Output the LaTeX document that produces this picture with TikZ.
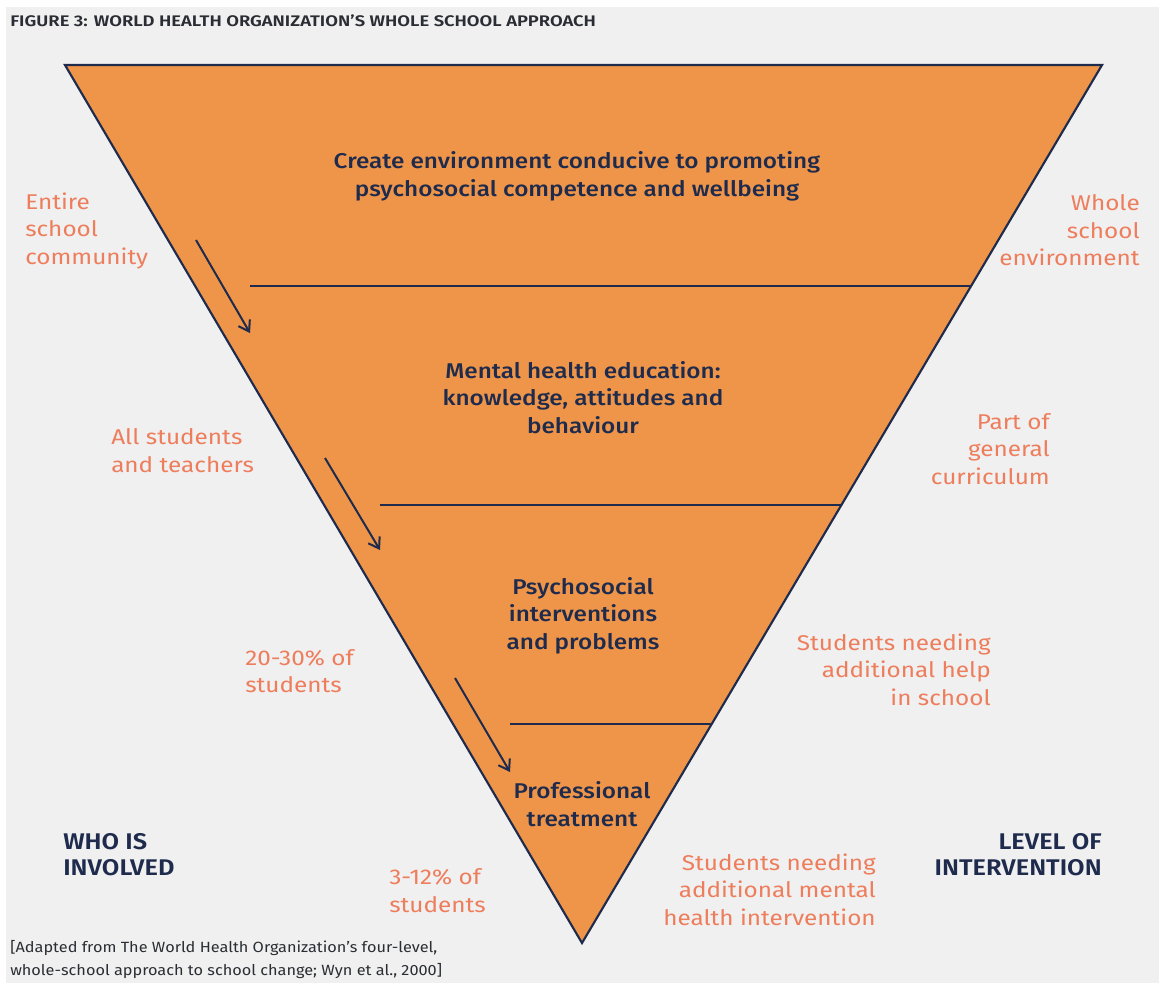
\documentclass[tikz,border=0pt]{standalone}
\usepackage{fontspec}
\setmainfont{Fira Sans}
\newfontfamily\medfont{Fira Sans}[UprightFont=* Medium, FakeStretch=1.14]
\newfontfamily\labfont{Fira Sans}[FakeStretch=1.14]
\newfontfamily\headfont{Fira Sans}[UprightFont=* SemiBold, FakeStretch=1.12]
\newfontfamily\capfont{Fira Sans}[UprightFont=* SemiBold, FakeStretch=1.2]
\newfontfamily\srcfont{Fira Sans}[FakeStretch=1.1]
\usetikzlibrary{arrows.meta}
\definecolor{bggray}{HTML}{F0F0F0}
\definecolor{tri}{HTML}{EF9549}
\definecolor{navy}{HTML}{1E2B4D}
\definecolor{salmon}{HTML}{EE7D5C}
\definecolor{ink}{HTML}{2A2D33}

\begin{document}
\begin{tikzpicture}[x=0.75pt,y=-0.75pt,
  band/.style={font=\medfont\fontsize{16}{20.6}\selectfont, text=navy, align=center, inner sep=0},
  who/.style={font=\labfont\fontsize{16}{20.6}\selectfont, text=salmon, inner sep=0},
  side/.style={font=\headfont\fontsize{17}{19}\selectfont, text=navy, inner sep=0},
  divider/.style={draw=navy, line width=1.5pt},
  flow/.style={draw=navy, line width=1.5pt, -{Straight Barb[length=7.5pt,width=10pt]}}
]
\useasboundingbox (0,0) rectangle (1159,983);
\fill[white] (0,0) rectangle (1159,983);
\fill[bggray] (6,7) rectangle (1159,983);

% title
\node[anchor=west, inner sep=0, text=ink, font=\capfont\fontsize{11.5}{14}\selectfont] (title) at (10,21)
  {FIGURE 3: WORLD HEALTH ORGANIZATION’S WHOLE SCHOOL APPROACH};

% inverted triangle
\coordinate (tl) at (65,65);
\coordinate (tr) at (1102,65);
\coordinate (ap) at (582,943);
\filldraw[fill=tri, draw=navy, line width=1.6pt, line join=miter] (tl) -- (tr) -- (ap) -- cycle;

% level dividers
\coordinate (d1a) at (250,286); \coordinate (d1b) at (971,286);
\coordinate (d2a) at (380,505); \coordinate (d2b) at (841,505);
\coordinate (d3a) at (510,724); \coordinate (d3b) at (712,724);
\draw[divider] (d1a) -- (d1b);
\draw[divider] (d2a) -- (d2b);
\draw[divider] (d3a) -- (d3b);

% downward arrows
\coordinate (a1s) at (196,240); \coordinate (a1e) at (250,333);
\coordinate (a2s) at (325,458); \coordinate (a2e) at (380,550);
\coordinate (a3s) at (455,678); \coordinate (a3e) at (510,772);
\draw[flow] (a1s) -- (a1e);
\draw[flow] (a2s) -- (a2e);
\draw[flow] (a3s) -- (a3e);

% band labels
\node[band] (b1) at (577,176.5) {Create environment conducive to promoting\\psychosocial competence and wellbeing};
\node[band] (b2) at (583,397.5) {Mental health education:\\knowledge, attitudes and\\behaviour};
\node[band] (b3) at (583,615.5) {Psychosocial\\interventions\\and problems};
\node[band] (b4) at (582,804) {Professional\\treatment};

% who is involved
\node[who, anchor=west, align=left] (w1) at (25,230.5) {Entire\\school\\community};
\node[who, anchor=west, align=left] (w2) at (111,450.5) {All students\\and teachers};
\node[who, anchor=west, align=left] (w3) at (245,671) {20-30\% of\\students};
\node[who, anchor=west, align=left] (w4) at (389,890.5) {3-12\% of\\students};

% level of intervention
\node[who, anchor=east, align=right] (l1) at (1140,230.5) {Whole\\school\\environment};
\node[who, anchor=east, align=right] (l2) at (1050,449) {Part of\\general\\curriculum};
\node[who, anchor=east, align=right] (l3) at (991,669.5) {Students needing\\additional help\\in school};
\node[who, anchor=east, align=right] (l4) at (876,889.5) {Students needing\\additional mental\\health intervention};

% column headings
\node[side, anchor=west, align=left] (who) at (63,854.5) {WHO IS\\INVOLVED};
\node[side, anchor=east, align=right] (lvl) at (1102,854.5) {LEVEL OF\\INTERVENTION};

% source
\node[anchor=west, align=left, inner sep=0, text=ink, font=\srcfont\fontsize{11.1}{17}\selectfont] (src) at (10,959.5)
  {[Adapted from The World Health Organization’s four-level,\\whole-school approach to school change; Wyn et al., 2000]};
\end{tikzpicture}
\end{document}
